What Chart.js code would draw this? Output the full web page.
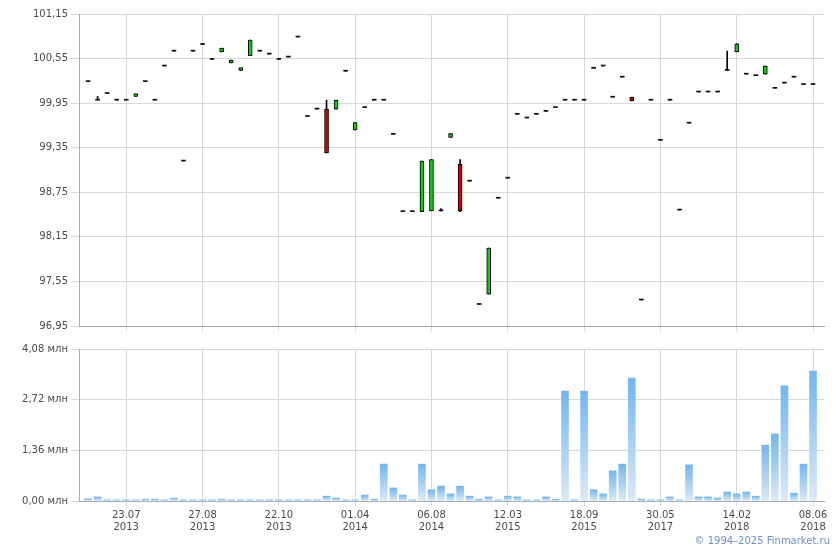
<!DOCTYPE html>
<html>
<head>
<meta charset="utf-8">
<script src="https://cdn.jsdelivr.net/npm/chart.js@4.4.1/dist/chart.umd.min.js"></script>
<style>
  body { margin: 0; background: #fff; width: 840px; height: 550px; position: relative; overflow: hidden; font-family: "DejaVu Sans", Verdana, sans-serif; }
  #priceWrap { position: absolute; left: 0; top: 0; width: 840px; height: 335px; }
  #volWrap { position: absolute; left: 0; top: 335px; width: 840px; height: 215px; }
  #copy { position: absolute; right: 10px; top: 535px; font-size: 10px; color: #6d8fc7; }
</style>
</head>
<body>
<div id="priceWrap"><canvas id="price"></canvas></div>
<div id="volWrap"><canvas id="vol"></canvas></div>
<div id="copy">© 1994–2025 Finmarket.ru</div>
<script>
// подписи оси X (индекс свечи -> дата)
const tickIndex = [4, 12, 20, 28, 36, 44, 52, 60, 68, 76];
const tickDates = ['23.07', '27.08', '22.10', '01.04', '06.08', '12.03', '18.09', '30.05', '14.02', '08.06'];
const tickYears = ['2013', '2013', '2013', '2014', '2014', '2015', '2015', '2017', '2018', '2018'];

const priceTicks = [96.95, 97.55, 98.15, 98.75, 99.35, 99.95, 100.55, 101.15];
const volumeTicks = [0, 1.36, 2.72, 4.08];

const openP = [100.24, 99.99, 100.08, 99.99, 99.99, 100.04, 100.24, 99.99, 100.45, 100.65,
  99.17, 100.65, 100.74, 100.54, 100.64, 100.49, 100.39, 100.59, 100.65, 100.61,
  100.54, 100.57, 100.84, 99.77, 99.87, 99.87, 99.87, 100.38, 99.59, 99.89,
  99.99, 99.99, 99.53, 98.49, 98.49, 98.49, 98.50, 98.50, 99.49, 99.13,
  98.90, 97.24, 97.38, 98.67, 98.94, 99.80, 99.75, 99.80, 99.84, 99.89,
  99.99, 99.99, 99.99, 100.42, 100.45, 100.03, 100.30, 100.03, 97.30, 99.99,
  99.45, 99.99, 98.51, 99.68, 100.10, 100.10, 100.10, 100.39, 100.64, 100.34,
  100.32, 100.34, 100.15, 100.22, 100.30, 100.20, 100.20];
const closeP = [100.24, 99.99, 100.08, 99.99, 99.99, 100.07, 100.24, 99.99, 100.45, 100.65,
  99.17, 100.65, 100.74, 100.54, 100.69, 100.53, 100.42, 100.80, 100.65, 100.61,
  100.54, 100.57, 100.84, 99.77, 99.87, 99.28, 99.99, 100.38, 99.69, 99.89,
  99.99, 99.99, 99.53, 98.49, 98.49, 99.17, 99.19, 98.50, 99.54, 98.50,
  98.90, 97.24, 98.00, 98.67, 98.94, 99.80, 99.75, 99.80, 99.84, 99.89,
  99.99, 99.99, 99.99, 100.42, 100.45, 100.03, 100.30, 99.98, 97.30, 99.99,
  99.45, 99.99, 98.51, 99.68, 100.10, 100.10, 100.10, 100.39, 100.75, 100.34,
  100.32, 100.45, 100.15, 100.22, 100.30, 100.20, 100.20];
const highP = [100.24, 100.04, 100.08, 99.99, 99.99, 100.07, 100.24, 99.99, 100.45, 100.65,
  99.17, 100.65, 100.74, 100.54, 100.69, 100.53, 100.42, 100.80, 100.65, 100.61,
  100.54, 100.57, 100.84, 99.77, 99.87, 99.99, 99.99, 100.38, 99.69, 99.89,
  99.99, 99.99, 99.53, 98.49, 98.49, 99.17, 99.19, 98.53, 99.54, 99.19,
  98.90, 97.24, 98.00, 98.67, 98.94, 99.80, 99.75, 99.80, 99.84, 99.89,
  99.99, 99.99, 99.99, 100.42, 100.45, 100.03, 100.30, 100.03, 97.30, 99.99,
  99.45, 99.99, 98.51, 99.68, 100.10, 100.10, 100.10, 100.65, 100.75, 100.34,
  100.32, 100.45, 100.15, 100.22, 100.30, 100.20, 100.20];
const lowP = [100.24, 99.99, 100.08, 99.99, 99.99, 100.04, 100.24, 99.99, 100.45, 100.65,
  99.17, 100.65, 100.74, 100.54, 100.64, 100.49, 100.39, 100.59, 100.65, 100.61,
  100.54, 100.57, 100.84, 99.77, 99.87, 99.28, 99.87, 100.38, 99.59, 99.89,
  99.99, 99.99, 99.53, 98.49, 98.49, 98.49, 98.50, 98.50, 99.49, 98.49,
  98.90, 97.24, 97.38, 98.67, 98.94, 99.80, 99.75, 99.80, 99.84, 99.89,
  99.99, 99.99, 99.99, 100.42, 100.45, 100.03, 100.30, 99.98, 97.30, 99.99,
  99.45, 99.99, 98.51, 99.68, 100.10, 100.10, 100.10, 100.39, 100.64, 100.34,
  100.32, 100.34, 100.15, 100.22, 100.30, 100.20, 100.20];

// объём, млн
const volume = [0.06, 0.11, 0.03, 0.03, 0.03, 0.03, 0.05, 0.05, 0.03, 0.08,
  0.03, 0.03, 0.03, 0.03, 0.05, 0.03, 0.03, 0.03, 0.03, 0.03,
  0.03, 0.03, 0.03, 0.03, 0.03, 0.13, 0.08, 0.03, 0.03, 0.16,
  0.05, 0.99, 0.35, 0.16, 0.03, 0.99, 0.30, 0.40, 0.19, 0.40,
  0.13, 0.05, 0.11, 0.03, 0.13, 0.11, 0.03, 0.03, 0.11, 0.05,
  2.95, 0.03, 2.95, 0.30, 0.19, 0.81, 0.99, 3.30, 0.05, 0.03,
  0.03, 0.11, 0.03, 0.97, 0.11, 0.11, 0.08, 0.24, 0.19, 0.24,
  0.13, 1.50, 1.80, 3.09, 0.21, 0.99, 3.49];

Chart.defaults.font.family = '"DejaVu Sans", Verdana, sans-serif';
Chart.defaults.font.size = 10;
Chart.defaults.color = '#4a4a4a';
Chart.defaults.animation = false;

const gridColor = '#d5dadf';
const axisColor = '#a8acb8';
const fmt = v => v.toFixed(2).replace('.', ',');
const idx = openP.map((_, i) => i);

const upColor = '#14c814';
const downColor = '#d40000';
// свечи с телом и "плоские" (open == close) рисуются отдельно
const bodyIdx = idx.filter(i => closeP[i] !== openP[i]);
const flatIdx = idx.filter(i => closeP[i] === openP[i]);

function xScale(showLabels, height) {
  return {
    type: 'linear',
    min: -0.95,
    max: 77.15,
    offset: false,
    afterBuildTicks: s => { s.ticks = tickIndex.map(v => ({ value: v })); },
    afterFit: s => { s.height = height; },
    grid: { color: gridColor, offset: false, tickLength: 5 },
    border: { color: axisColor },
    ticks: {
      display: showLabels,
      autoSkip: false,
      maxRotation: 0,
      padding: 3,
      callback: v => {
        const k = tickIndex.indexOf(v);
        return k < 0 ? '' : [tickDates[k], tickYears[k]];
      }
    }
  };
}

function yScale(min, max, ticks, label) {
  return {
    min: min,
    max: max,
    afterBuildTicks: s => { s.ticks = ticks.map(v => ({ value: v })); },
    afterFit: s => { s.width = 79; },
    grid: { color: gridColor, tickLength: 8 },
    border: { color: axisColor },
    ticks: { padding: 3, callback: label }
  };
}

new Chart(document.getElementById('price'), {
  type: 'bar',
  data: {
    datasets: [{
      label: 'тени',
      data: idx.map(i => ({ x: i, y: [lowP[i], highP[i]] })),
      backgroundColor: '#000',
      barThickness: 1,
      grouped: false,
      order: 3
    }, {
      label: 'свечи',
      data: bodyIdx.map(i => ({ x: i, y: [openP[i], closeP[i]] })),
      backgroundColor: bodyIdx.map(i => closeP[i] > openP[i] ? upColor : downColor),
      borderColor: '#000',
      borderWidth: 1,
      borderSkipped: false,
      barThickness: 4,
      minBarLength: 3,
      grouped: false,
      order: 1
    }, {
      label: 'без изменений',
      data: flatIdx.map(i => ({ x: i, y: [openP[i], closeP[i]] })),
      backgroundColor: '#111',
      borderWidth: 0,
      barThickness: 4,
      minBarLength: 1,
      grouped: false,
      order: 2
    }]
  },
  options: {
    responsive: true,
    maintainAspectRatio: false,
    layout: { padding: { top: 14, right: 16, left: 0, bottom: 0 } },
    plugins: { legend: { display: false }, tooltip: { enabled: false } },
    scales: {
      x: xScale(false, 9),
      y: yScale(96.95, 101.15, priceTicks, v => fmt(v))
    }
  }
});

new Chart(document.getElementById('vol'), {
  type: 'bar',
  data: {
    datasets: [{
      label: 'Объём',
      data: idx.map(i => ({ x: i, y: volume[i] })),
      barThickness: 7,
      backgroundColor: ctx => {
        const chart = ctx.chart;
        if (!chart.chartArea || ctx.type !== 'data') return '#8cc4f2';
        const ys = chart.scales.y;
        const top = ys.getPixelForValue(ctx.raw.y);
        const bot = ys.getPixelForValue(0);
        if (!isFinite(top) || bot - top < 1) return '#8cc4f2';
        const g = chart.ctx.createLinearGradient(0, top, 0, bot);
        g.addColorStop(0, '#72b6ee');
        g.addColorStop(1, '#dde9f6');
        return g;
      }
    }]
  },
  options: {
    responsive: true,
    maintainAspectRatio: false,
    layout: { padding: { top: 14, right: 16, left: 0, bottom: 0 } },
    plugins: { legend: { display: false }, tooltip: { enabled: false } },
    scales: {
      x: xScale(true, 49),
      y: yScale(0, 4.08, volumeTicks, v => fmt(v) + ' млн')
    }
  }
});
</script>
</body>
</html>
